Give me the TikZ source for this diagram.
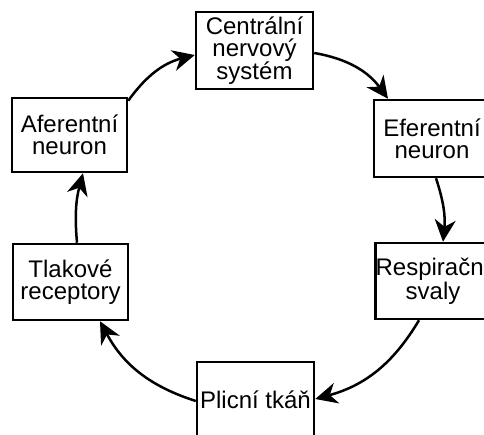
\documentclass[tikz,border=0pt]{standalone}
\usepackage{fontspec}
\setmainfont{Liberation Sans}
\usetikzlibrary{arrows.meta}
\begin{document}
\begin{tikzpicture}[x=1pt,y=1pt,
  box/.style={draw=black, line width=2.5pt, minimum width=116pt, minimum height=76pt,
    inner sep=0pt, align=center, font=\fontsize{24}{22}\selectfont},
  arr/.style={line width=2.5pt, -{Stealth[length=22pt, width=21pt, inset=7pt]}}]
\useasboundingbox (0,0) rectangle (484,434);
\clip (0,0) rectangle (484,434);
\fill[white] (0,0) rectangle (484,434);
\node[box, minimum width=117pt, minimum height=77pt] (cns) at (254.5,383.5) {Centrální\\nervový\\systém};
\node[box, minimum height=77pt] (ef) at (432,295.5) {Eferentní\\neuron};
\node[box, minimum width=112pt] (resp) at (433,153) {Respirační\\svaly};
\node[box, minimum width=117pt] (pl) at (255.5,34) {Plicní tkáň};
\node[box, minimum width=115pt] (tl) at (70.5,152) {Tlakové\\receptory};
\node[box, minimum width=115pt, minimum height=74pt] (af) at (69.5,299) {Aferentní\\neuron};
\draw[arr] ([yshift=-2.5pt]cns.east) to[bend left=22] ([xshift=-44pt]ef.north);
\draw[arr] ([xshift=4pt]ef.south) to[bend left=12] ([xshift=10pt]resp.north);
\draw[arr] ([xshift=-14pt]resp.south) to[bend left=22] ([yshift=1pt]pl.east);
\draw[arr] ([yshift=-1pt]pl.west) to[bend left=22] ([xshift=29.5pt]tl.south);
\draw[arr] ([xshift=6.5pt]tl.north) to[bend left=10] ([xshift=13.5pt]af.south);
\draw[arr] ([yshift=-4pt]af.north east) to[bend left=20] ([yshift=-4.5pt]cns.west);
\end{tikzpicture}
\end{document}
